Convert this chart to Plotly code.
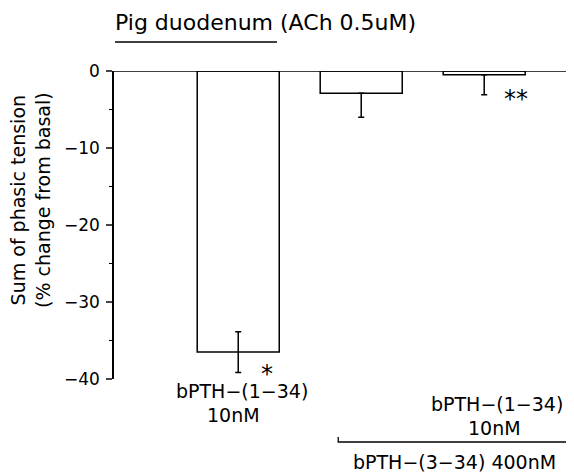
import plotly.graph_objects as go

categories = ["bPTH-(1-34) 10nM", "bPTH-(3-34) 400nM", "bPTH-(1-34) 10nM + bPTH-(3-34) 400nM"]
x_pos = [0, 1, 2]
values = [-36.5, -2.9, -0.5]
err_minus = [2.65, 3.1, 2.6]
err_plus = [2.65, 0, 0]
y_ticks = [0, -10, -20, -30, -40]
y_tick_labels = ["0", "\u221210", "\u221220", "\u221230", "\u221240"]

FONT = "DejaVu Sans, Verdana, sans-serif"

# plot area in screen pixels (page has 8px body margin)
L, T, B = 114, 71, 379
PH = B - T

fig = go.Figure()
fig.add_trace(go.Bar(
    x=x_pos, y=values, width=0.667,
    marker=dict(color="white", line=dict(color="black", width=1.5)),
    error_y=dict(type="data", symmetric=False, array=err_plus, arrayminus=err_minus,
                 color="black", thickness=1.5, width=3),
    showlegend=False,
))

fig.update_layout(
    width=566, height=464,
    margin=dict(l=L - 8, r=0, t=T - 8, b=464 - (B - 8)),
    paper_bgcolor="white", plot_bgcolor="white",
    font=dict(family=FONT, size=17, color="black"),
    xaxis=dict(range=[-1.01, 2.73], showticklabels=False, showgrid=False,
               zeroline=False, showline=False, ticks=""),
    yaxis=dict(range=[-40, 0], tickvals=y_ticks, ticktext=y_tick_labels,
               showgrid=False, zeroline=False, showline=True, linecolor="black",
               linewidth=1.5, ticks="outside", ticklen=6, tickwidth=1.5,
               tickfont=dict(size=17), ticklabelstandoff=3,
               minor=dict(dtick=5, ticks="outside", ticklen=3, tickwidth=1.2,
                          tickcolor="black", showgrid=False)),
)

def py(screen_y):
    return 1 - (screen_y - T) / PH

def px(screen_x):
    return (screen_x - L) / 460

# top baseline at 0
fig.add_shape(type="line", xref="paper", yref="y", x0=0, x1=1, y0=0, y1=0,
              line=dict(color="black", width=1.5))

# y axis title
fig.add_annotation(text="Sum of phasic tension<br>(% change from basal)",
                   xref="paper", yref="paper", x=px(31), y=py(200),
                   xanchor="center", yanchor="middle", textangle=-90,
                   showarrow=False, font=dict(size=19))

# title
fig.add_annotation(text="Pig duodenum (ACh 0.5uM)", xref="paper", yref="paper",
                   x=px(113), y=py(23), xanchor="left", yanchor="middle",
                   showarrow=False, font=dict(size=22))
# underline for "Pig duodenum"
fig.add_shape(type="line", xref="paper", yref="paper",
              x0=px(115), x1=px(277), y0=py(42), y1=py(42),
              line=dict(color="black", width=1.3))

# stars
fig.add_annotation(text="*", x=0.236, y=-39.3, xref="x", yref="y", showarrow=False,
                   font=dict(size=24))
fig.add_annotation(text="**", x=2.26, y=-3.6, xref="x", yref="y", showarrow=False,
                   font=dict(size=24))

# x labels
def label(txt, xv, ypx):
    fig.add_annotation(text=txt, x=xv, xref="x", yref="paper", y=py(ypx),
                       yanchor="middle", showarrow=False, font=dict(size=19))

label("bPTH\u2212(1\u221234)", 0.03, 391)
label("10nM", -0.04, 415)
label("bPTH\u2212(1\u221234)", 2.1, 404)
label("10nM", 2.08, 428)
label("bPTH\u2212(3\u221234) 400nM", 1.76, 462)

# bracket
by = py(442)
fig.add_shape(type="path", xref="x", yref="paper",
              path=f"M 0.813 {by + 5/PH} L 0.813 {by} L 2.72 {by} L 2.72 {by + 5/PH}",
              line=dict(color="black", width=1.3))

fig.write_html("out.html")
